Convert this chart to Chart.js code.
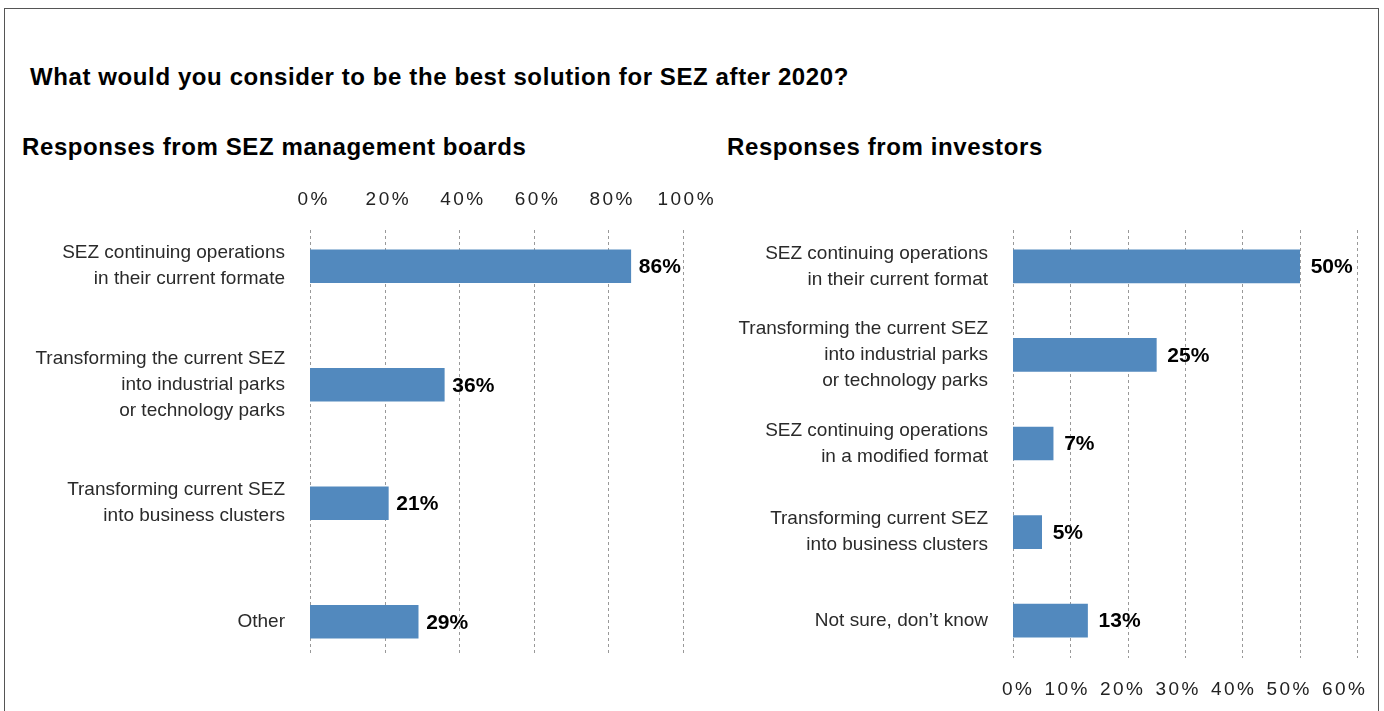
<!DOCTYPE html>
<html>
<head>
<meta charset="utf-8">
<script src="https://cdn.jsdelivr.net/npm/chart.js@4.4.1/dist/chart.umd.min.js"></script>
<style>
  html, body { margin: 0; padding: 0; background: #fff; }
  body { width: 1384px; height: 711px; position: relative; overflow: hidden; font-family: "Liberation Sans", Arial, sans-serif; }
  .frame { position: absolute; left: 4px; top: 8px; width: 1375px; height: 720px; border: 1px solid #555; box-sizing: border-box; }
  .title { position: absolute; left: 30px; top: 63px; font-size: 24px; line-height: 28px; font-weight: bold; letter-spacing: 0.6px; color: #000; }
  .sub { position: absolute; top: 133px; font-size: 24px; line-height: 28px; font-weight: bold; letter-spacing: 0.6px; color: #000; }
  .box { position: absolute; }
</style>
</head>
<body>
<div class="frame"></div>
<div class="title">What would you consider to be the best solution for SEZ after 2020?</div>
<div class="sub" style="left:22px">Responses from SEZ management boards</div>
<div class="sub" style="left:727px">Responses from investors</div>
<div class="box" style="left:0;top:170px;width:720px;height:541px"><canvas id="boards"></canvas></div>
<div class="box" style="left:700px;top:170px;width:684px;height:541px"><canvas id="investors"></canvas></div>
<script>
// Survey answers: management boards
const boardCategories = [
  ["SEZ continuing operations", "in their current formate"],
  ["Transforming the current SEZ", "into industrial parks", "or technology parks"],
  ["Transforming current SEZ", "into business clusters"],
  "Other"
];
const boardValues = [86, 36, 21, 29];
const boardTicks = [0, 20, 40, 60, 80, 100];

// Survey answers: investors
const investorCategories = [
  ["SEZ continuing operations", "in their current format"],
  ["Transforming the current SEZ", "into industrial parks", "or technology parks"],
  ["SEZ continuing operations", "in a modified format"],
  ["Transforming current SEZ", "into business clusters"],
  "Not sure, don\u2019t know"
];
const investorValues = [50, 25, 7, 5, 13];
const investorTicks = [0, 10, 20, 30, 40, 50, 60];

const BAR = '#5289be';
const FAMILY = "'Liberation Sans', Arial, sans-serif";
const TRACK = 2.5; // letter spacing of the percentage tick labels

// per-chart placement tweaks for the tick labels
const tickLabelPlacement = {
  boards(item) {
    item.options.translation[0] += 2.5 + TRACK / 2;
    item.options.translation[1] += 4.5;
  },
  investors(item, scale) {
    const L = scale.left;
    const x = item.options.translation[0];
    item.options.translation[0] = L + 19 + (x - L) * 0.968 + TRACK;
    item.options.textAlign = 'right';
  }
};

// linear axis whose tick labels are drawn with extra tracking
class TrackedLinearScale extends Chart.LinearScale {
  _computeLabelItems(area) {
    const items = super._computeLabelItems(area);
    const place = tickLabelPlacement[this.chart.canvas.id];
    if (place) items.forEach(it => place(it, this));
    return items;
  }
  drawLabels(area) {
    const ctx = this.ctx;
    ctx.save();
    ctx.letterSpacing = TRACK + 'px';
    super.drawLabels(area);
    ctx.restore();
  }
}
TrackedLinearScale.id = 'trackedLinear';
TrackedLinearScale.defaults = Chart.LinearScale.defaults;
Chart.register(TrackedLinearScale);

// dashed vertical guides at each x tick, limited to a vertical span
function guides(top, bottom) {
  return {
    id: 'guides',
    beforeDatasetsDraw(chart) {
      const ctx = chart.ctx, xs = chart.scales.x;
      ctx.save();
      ctx.strokeStyle = '#999';
      ctx.lineWidth = 1;
      ctx.setLineDash([3, 3]);
      xs.ticks.forEach(t => {
        const x = Math.round(xs.getPixelForValue(t.value)) + 0.5;
        ctx.beginPath();
        ctx.moveTo(x, top);
        ctx.lineTo(x, bottom);
        ctx.stroke();
      });
      ctx.restore();
    }
  };
}

// bold value labels at the end of each bar
function valueLabels(gap) {
  return {
    id: 'valueLabels',
    afterDatasetsDraw(chart) {
      const ctx = chart.ctx;
      const meta = chart.getDatasetMeta(0);
      const data = chart.data.datasets[0].data;
      ctx.save();
      ctx.font = 'bold 21px ' + FAMILY;
      ctx.fillStyle = '#000';
      ctx.textBaseline = 'middle';
      ctx.textAlign = 'left';
      meta.data.forEach((bar, i) => {
        ctx.fillText(data[i] + '%', bar.x + gap, bar.y + 1);
      });
      ctx.restore();
    }
  };
}

function makeChart(id, cats, vals, ticks, opt) {
  return new Chart(document.getElementById(id), {
    type: 'bar',
    data: {
      labels: cats,
      datasets: [{ data: vals, backgroundColor: BAR, barThickness: 33, borderWidth: 0 }]
    },
    options: {
      indexAxis: 'y',
      responsive: true,
      maintainAspectRatio: false,
      animation: false,
      layout: { padding: opt.padding },
      plugins: { legend: { display: false }, tooltip: { enabled: false } },
      scales: {
        x: {
          type: 'trackedLinear',
          position: opt.xPos,
          min: 0,
          max: ticks[ticks.length - 1],
          afterBuildTicks(scale) { scale.ticks = ticks.map(v => ({ value: v })); },
          afterFit(scale) {
            scale.height = opt.xHeight;
            scale.paddingLeft = 0; scale.paddingRight = 0;
          },
          grid: { display: false, drawTicks: false },
          border: { display: false },
          ticks: {
            color: '#222',
            font: { family: FAMILY, size: 19 },
            padding: opt.tickPad,
            maxRotation: 0,
            callback: v => v + '%'
          }
        },
        y: {
          afterFit(scale) {
            scale.width = opt.yWidth;
            scale.paddingTop = 0; scale.paddingBottom = 0;
          },
          grid: { display: false, drawTicks: false },
          border: { display: false },
          ticks: {
            color: '#2a2a2a',
            font: { family: FAMILY, size: 19, lineHeight: 1.37 },
            padding: 25,
            crossAlign: 'near'
          }
        }
      }
    },
    plugins: [guides(opt.gTop, opt.gBottom), valueLabels(opt.gap)]
  });
}

makeChart('boards', boardCategories, boardValues, boardTicks, {
  padding: { top: 0, right: 37, bottom: 30, left: 0 },
  xPos: 'top', xHeight: 37, tickPad: 0, yWidth: 310, gTop: 60, gBottom: 485, gap: 8
});

makeChart('investors', investorCategories, investorValues, investorTicks, {
  padding: { top: 52, right: 27, bottom: 0, left: 0 },
  xPos: 'bottom', xHeight: 46, tickPad: 13, yWidth: 313, gTop: 60, gBottom: 488, gap: 11
});
</script>
</body>
</html>
